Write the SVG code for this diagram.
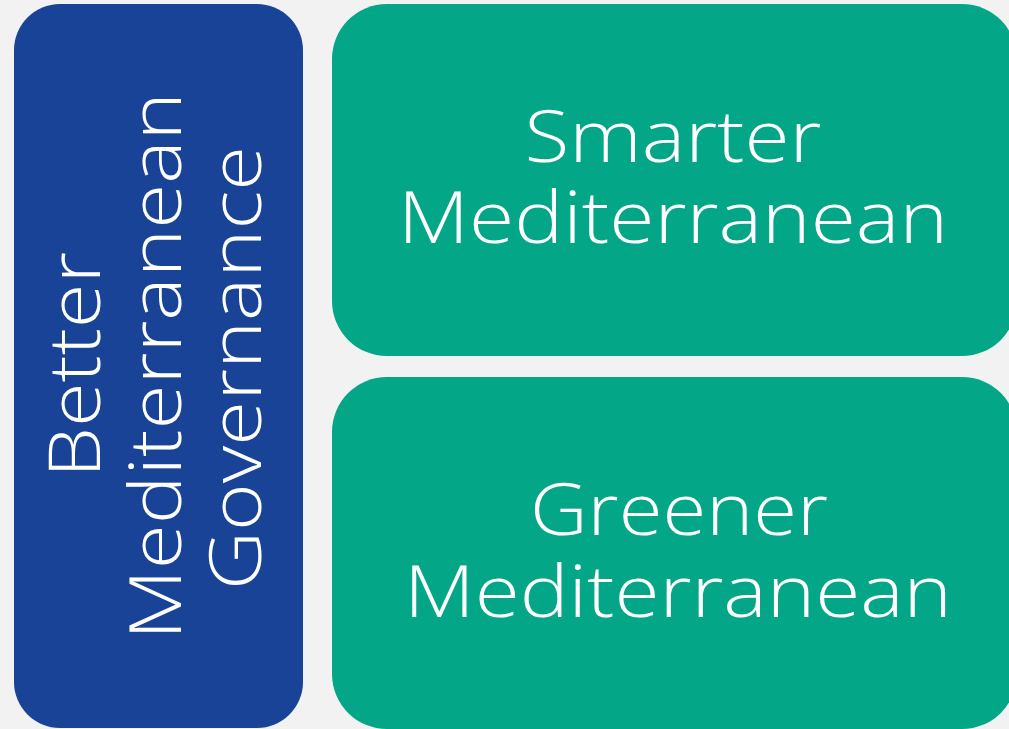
<svg xmlns="http://www.w3.org/2000/svg" width="1009" height="729" viewBox="0 0 1009 729">
<style>
.bg{fill:#f2f2f2}
.blue{fill:#194396}
.green{fill:#03a687}
.t{font-family:"Open Sans","DejaVu Sans","Liberation Sans",sans-serif;font-weight:300;font-size:72px;fill:#ffffff;text-anchor:middle}
</style>
<rect class="bg" x="0" y="0" width="1009" height="729"/>
<g id="node-governance">
<rect class="blue" x="14" y="4" width="289" height="724" rx="46" ry="46"/>
<text class="t" transform="translate(100,365) rotate(-90)" textLength="226" lengthAdjust="spacingAndGlyphs">Better</text>
<text class="t" transform="translate(181,366) rotate(-90)" textLength="548" lengthAdjust="spacingAndGlyphs">Mediterranean</text>
<text class="t" transform="translate(261,368) rotate(-90)" textLength="444" lengthAdjust="spacingAndGlyphs">Governance</text>
</g>
<g id="node-smarter">
<rect class="green" x="332" y="4" width="685" height="352" rx="55" ry="55"/>
<text class="t" x="673" y="162" textLength="297" lengthAdjust="spacingAndGlyphs">Smarter</text>
<text class="t" x="673" y="243" textLength="550" lengthAdjust="spacingAndGlyphs">Mediterranean</text>
</g>
<g id="node-greener">
<rect class="green" x="332" y="377" width="685" height="352" rx="55" ry="55"/>
<text class="t" x="679" y="535" textLength="298" lengthAdjust="spacingAndGlyphs">Greener</text>
<text class="t" x="678" y="617" textLength="548" lengthAdjust="spacingAndGlyphs">Mediterranean</text>
</g>
<g id="connectors"/>
</svg>
